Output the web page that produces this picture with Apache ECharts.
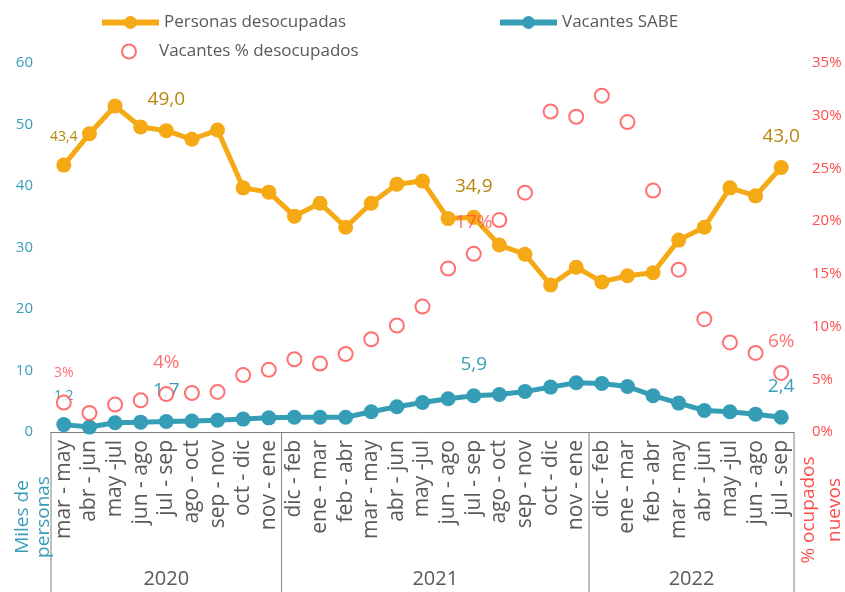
<!DOCTYPE html>
<html lang="es">
<head>
<meta charset="UTF-8">
<title>Desocupados y vacantes</title>
<script src="https://cdn.jsdelivr.net/npm/echarts@6/dist/echarts.min.js"></script>
<style>
    html, body { margin: 0; padding: 0; background: #fff; }
    #main { width: 845px; height: 592px; }
</style>
</head>
<body>
<div id="main"></div>
<script>
// data
const periods = [
    'mar - may', 'abr - jun', 'may -jul', 'jun - ago', 'jul - sep', 'ago - oct', 'sep - nov', 'oct - dic', 'nov - ene',
    'dic - feb', 'ene - mar', 'feb - abr', 'mar - may', 'abr - jun', 'may -jul', 'jun - ago', 'jul - sep', 'ago - oct', 'sep - nov', 'oct - dic', 'nov - ene',
    'dic - feb', 'ene - mar', 'feb - abr', 'mar - may', 'abr - jun', 'may -jul', 'jun - ago', 'jul - sep'
];
const years = ['2020', '2021', '2022'];
const yearSpans = [9, 12, 8];
const desocupados = [43.4, 48.5, 53.0, 49.6, 49.0, 47.6, 49.1, 39.7, 39.0, 35.1, 37.2, 33.3, 37.2, 40.3, 40.8, 34.7, 34.9, 30.4, 28.9, 23.9, 26.8, 24.4, 25.4, 25.9, 31.2, 33.3, 39.7, 38.4, 43.0];
const vacantesSabe = [1.2, 0.8, 1.5, 1.6, 1.7, 1.8, 1.9, 2.1, 2.3, 2.4, 2.4, 2.4, 3.3, 4.1, 4.8, 5.4, 5.9, 6.1, 6.6, 7.3, 8.0, 7.9, 7.4, 5.9, 4.7, 3.5, 3.3, 2.9, 2.4];
const vacantesPct = [0.028, 0.018, 0.026, 0.030, 0.036, 0.037, 0.038, 0.054, 0.059, 0.069, 0.065, 0.074, 0.088, 0.101, 0.119, 0.155, 0.169, 0.201, 0.227, 0.304, 0.299, 0.319, 0.294, 0.229, 0.154, 0.107, 0.085, 0.075, 0.056];
const labeledIdx = [0, 4, 16, 28];

const FONT = 'Open Sans';
const ORANGE = '#F5A914';
const BLUE = '#359EB6';
const RED = '#FF4D4D';
const GRAY = '#595959';

const chart = echarts.init(document.getElementById('main'));

function comma(v) {
    return v.toFixed(1).replace('.', ',');
}

function withLabels(values, color) {
    return values.map((v, i) => ({
        value: v,
        label: {
            show: labeledIdx.includes(i),
            color: color,
            fontSize: i === 0 ? 14 : 19,
            distance: 14
        }
    }));
}

const legendText = { fontSize: 17, color: GRAY, fontFamily: FONT };

chart.setOption({
    textStyle: { fontFamily: FONT },
    animation: false,
    grid: { left: 51, right: 51, top: 63, bottom: 160 },
    legend: [
        {
            data: ['Personas desocupadas'], left: 94, top: 9,
            itemWidth: 57, itemHeight: 16,
            lineStyle: { width: 6 },
            textStyle: legendText
        },
        {
            data: ['Vacantes SABE'], left: 492, top: 9,
            itemWidth: 57, itemHeight: 16,
            lineStyle: { width: 6 },
            textStyle: legendText
        },
        {
            data: ['Vacantes % desocupados'], left: 116, top: 38,
            itemWidth: 14, itemHeight: 14,
            textStyle: Object.assign({ padding: [0, 0, 0, 18] }, legendText)
        }
    ],
    xAxis: {
        type: 'category',
        data: periods,
        boundaryGap: true,
        axisLine: { lineStyle: { color: '#7f7f7f', width: 1 } },
        axisTick: { show: false },
        axisLabel: { rotate: 90, interval: 0, fontSize: 21, color: GRAY, margin: 8, fontFamily: FONT }
    },
    yAxis: [
        {
            type: 'value', min: 0, max: 60, interval: 10,
            splitLine: { show: false },
            axisLine: { show: false }, axisTick: { show: false },
            axisLabel: { color: '#3A9CB8', fontSize: 15, margin: 18, fontFamily: FONT }
        },
        {
            type: 'value', min: 0, max: 0.35, interval: 0.05,
            splitLine: { show: false },
            axisLine: { show: false }, axisTick: { show: false },
            axisLabel: {
                color: RED, fontSize: 15, margin: 18, fontFamily: FONT,
                formatter: v => Math.round(v * 100) + '%'
            }
        }
    ],
    series: [
        {
            name: 'Personas desocupadas',
            type: 'line',
            data: withLabels(desocupados, '#B8860B'),
            symbol: 'circle', symbolSize: 15,
            lineStyle: { color: ORANGE, width: 5 },
            itemStyle: { color: ORANGE },
            label: { position: 'top', formatter: p => comma(p.value), fontFamily: FONT },
            z: 2
        },
        {
            name: 'Vacantes SABE',
            type: 'line',
            data: withLabels(vacantesSabe, '#3A9EB5'),
            symbol: 'circle', symbolSize: 15,
            lineStyle: { color: BLUE, width: 5 },
            itemStyle: { color: BLUE },
            label: { position: 'top', formatter: p => comma(p.value), fontFamily: FONT },
            z: 3
        },
        {
            name: 'Vacantes % desocupados',
            type: 'scatter',
            yAxisIndex: 1,
            data: withLabels(vacantesPct, RED),
            symbol: 'circle', symbolSize: 14,
            itemStyle: { color: '#fff', borderColor: RED, borderWidth: 2 },
            label: { position: 'top', formatter: p => Math.round(p.value * 100) + '%', fontFamily: FONT },
            z: 4
        }
    ]
});

// year boxes under the category labels
const px = i => chart.convertToPixel({ xAxisIndex: 0 }, i);
const step = px(1) - px(0);
const axisY = chart.convertToPixel({ yAxisIndex: 0 }, 0);
const graphics = [];
let start = 0;
const edges = [px(0) - step / 2];
yearSpans.forEach((n, k) => {
    const x0 = px(start) - step / 2;
    const x1 = px(start + n - 1) + step / 2;
    edges.push(x1);
    graphics.push({
        type: 'text', x: (x0 + x1) / 2, y: 579,
        style: { text: years[k], fontSize: 20, fill: GRAY, fontFamily: FONT, align: 'center', verticalAlign: 'middle' }
    });
    start += n;
});
edges.forEach(x => {
    graphics.push({
        type: 'line', shape: { x1: x, y1: axisY, x2: x, y2: 592 },
        style: { stroke: '#7f7f7f', lineWidth: 1 }
    });
});
// axis titles
graphics.push({
    type: 'text', x: 33, y: 517, rotation: Math.PI / 2,
    style: { text: 'Miles de\npersonas', fontSize: 19, fill: '#3A9CB8', fontFamily: FONT, align: 'center', verticalAlign: 'middle', lineHeight: 21 }
});
graphics.push({
    type: 'text', x: 822, y: 510, rotation: Math.PI / 2,
    style: { text: '% ocupados\nnuevos', fontSize: 19, fill: RED, fontFamily: FONT, align: 'center', verticalAlign: 'middle', lineHeight: 26 }
});
chart.setOption({ graphic: graphics });

window.addEventListener('resize', function () {
    chart.resize();
});
</script>
</body>
</html>
